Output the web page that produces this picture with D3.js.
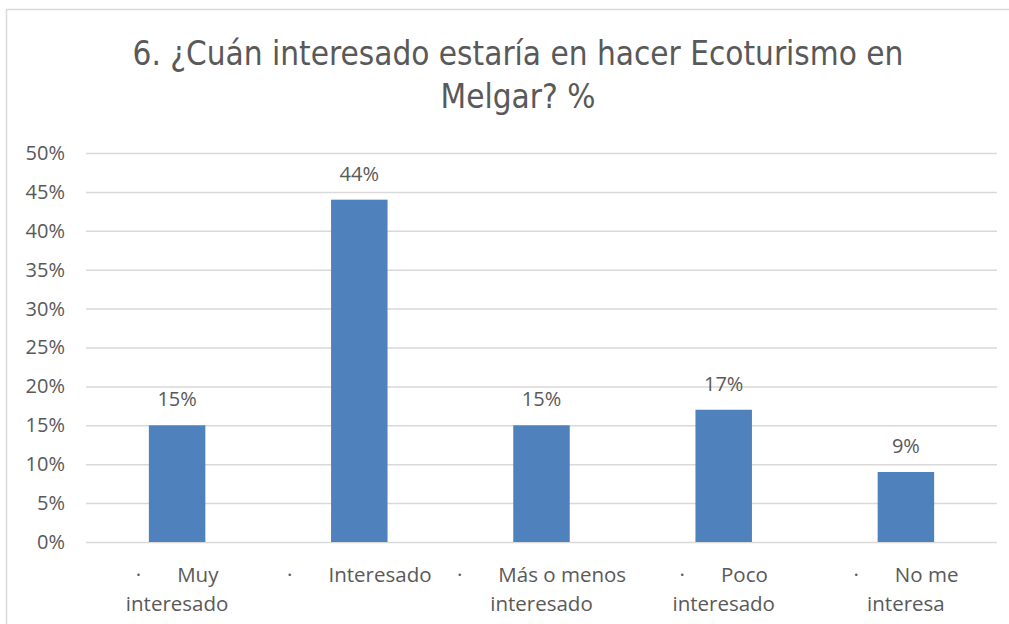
<!DOCTYPE html>
<html>
<head>
<meta charset="utf-8">
<script src="https://cdn.jsdelivr.net/npm/d3@7"></script>
<style>
  body { margin: 0; background: #fff; }
  text { font-family: "Open Sans", "DejaVu Sans", sans-serif; fill: #595959; }
  .title { font-family: "DejaVu Sans Condensed", "Liberation Sans Narrow", sans-serif; }
</style>
</head>
<body>
<div id="chart-container"></div>
<script>
// data
const categories = ["Muy interesado", "Interesado", "Más o menos interesado", "Poco interesado", "No me interesa"];
const labelLine1 = ["Muy", "Interesado", "Más o menos", "Poco", "No me"];
const labelLine2 = ["interesado", "", "interesado", "interesado", "interesa"];
const values = [15, 44, 15, 17, 9];
const yTicks = [0, 5, 10, 15, 20, 25, 30, 35, 40, 45, 50];
const titleLines = ["6. ¿Cuán interesado estaría en hacer Ecoturismo en", "Melgar? %"];

const W = 1009, H = 624;
const margin = { top: 153, right: 12, bottom: 82, left: 86 };
const width = W - margin.left - margin.right;
const height = H - margin.top - margin.bottom;

const svg = d3.select("#chart-container")
  .append("svg")
    .attr("width", W)
    .attr("height", H);

// chart area border
svg.append("rect")
  .attr("x", 6.5).attr("y", 9.5)
  .attr("width", W + 10).attr("height", H + 10)
  .attr("fill", "none")
  .attr("stroke", "#d9d9d9")
  .attr("stroke-width", 1.5);

// title
svg.append("g").selectAll("text")
  .data(titleLines)
  .enter()
  .append("text")
    .attr("class", "title")
    .attr("x", 518)
    .attr("y", (d, i) => 65 + i * 43)
    .attr("text-anchor", "middle")
    .style("font-size", "33px")
    .text(d => d);

const g = svg.append("g")
  .attr("transform", "translate(" + margin.left + "," + margin.top + ")");

const x = d3.scaleBand()
  .domain(categories)
  .range([0, width])
  .paddingInner(0.69)
  .paddingOuter(0.345);

const y = d3.scaleLinear()
  .domain([0, 50])
  .range([height, 0]);

// gridlines
const yAxis = g.append("g")
  .call(d3.axisLeft(y).tickValues(yTicks).tickSize(-width).tickFormat(d => d + "%"));
yAxis.select(".domain").remove();
yAxis.selectAll(".tick line").attr("stroke", "#d9d9d9").attr("stroke-width", 1.5);
yAxis.selectAll(".tick text")
  .attr("x", -21)
  .style("font-size", "20px")
  .style("font-family", "'Open Sans', sans-serif")
  .style("fill", "#595959");

// bars
g.selectAll(".bar")
  .data(values)
  .enter()
  .append("rect")
    .attr("class", "bar")
    .attr("x", (d, i) => x(categories[i]))
    .attr("y", d => y(d))
    .attr("width", x.bandwidth())
    .attr("height", d => height - y(d))
    .attr("fill", "#4f81bd");

// data labels
g.selectAll(".val")
  .data(values)
  .enter()
  .append("text")
    .attr("class", "val")
    .attr("x", (d, i) => x(categories[i]) + x.bandwidth() / 2)
    .attr("y", d => y(d) - 19)
    .attr("text-anchor", "middle")
    .style("font-size", "20px")
    .text(d => d + "%");

// x axis labels with bullet
const lab = g.selectAll(".xlab")
  .data(categories)
  .enter()
  .append("g")
    .attr("class", "xlab")
    .attr("transform", (d, i) => "translate(" + (x(d) + x.bandwidth() / 2) + "," + (height + 40) + ")");

lab.append("text")
  .attr("text-anchor", "middle")
  .style("font-size", "20.5px")
  .each(function(d, i) {
    const t = d3.select(this);
    t.append("tspan").text("·");
    t.append("tspan").attr("dx", 36).text(labelLine1[i]);
  });

lab.append("text")
  .attr("y", 29)
  .attr("text-anchor", "middle")
  .style("font-size", "20.5px")
  .text((d, i) => labelLine2[i]);
</script>
</body>
</html>
